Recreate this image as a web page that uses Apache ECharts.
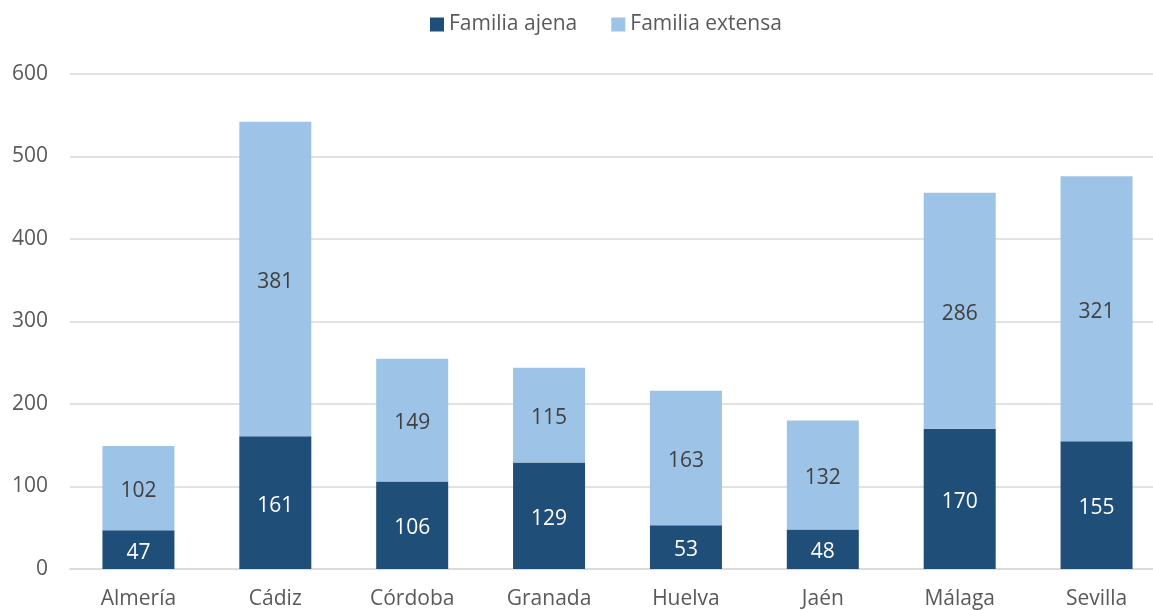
<!DOCTYPE html>
<html>
<head>
<meta charset="utf-8">
<script src="https://cdn.jsdelivr.net/npm/echarts@6/dist/echarts.min.js"></script>
<style>
  html, body { margin: 0; padding: 0; background: #fff; overflow: hidden; }
  #chart { width: 1153px; height: 610px; }
</style>
</head>
<body>
<div id="chart"></div>
<script>
const provincias = ['Almería', 'Cádiz', 'Córdoba', 'Granada', 'Huelva', 'Jaén', 'Málaga', 'Sevilla']
const familiaAjena = [47, 161, 106, 129, 53, 48, 170, 155]
const familiaExtensa = [102, 381, 149, 115, 163, 132, 286, 321]

const font = '"Open Sans", "Noto Sans", sans-serif'

const chart = echarts.init(document.getElementById('chart'))
chart.setOption({
  animation: false,
  textStyle: { fontFamily: font },
  legend: {
    top: 9,
    left: 425,
    itemWidth: 14,
    itemHeight: 14,
    itemGap: 34,
    icon: 'rect',
    textStyle: { fontSize: 21, color: '#595959', fontFamily: font },
    data: ['Familia ajena', 'Familia extensa']
  },
  grid: { left: 70, right: -12, top: 74, bottom: 41, outerBoundsMode: 'none' },
  xAxis: {
    type: 'category',
    data: provincias,
    axisLine: { lineStyle: { color: '#d9d9d9', width: 1.5 } },
    axisTick: { show: false },
    axisLabel: { fontSize: 21, color: '#595959', margin: 20, fontFamily: font }
  },
  yAxis: {
    type: 'value',
    min: 0,
    max: 600,
    interval: 100,
    axisLine: { show: false },
    axisTick: { show: false },
    splitLine: { lineStyle: { color: '#d9d9d9', width: 1.5 } },
    axisLabel: { fontSize: 21, color: '#595959', margin: 22, fontFamily: font }
  },
  series: [
    {
      name: 'Familia ajena',
      type: 'bar',
      stack: 'total',
      barWidth: '52.6%',
      itemStyle: { color: '#1f4e79' },
      label: { show: true, position: 'inside', offset: [0, 3], color: '#ffffff', fontSize: 21, fontFamily: font },
      data: familiaAjena
    },
    {
      name: 'Familia extensa',
      type: 'bar',
      stack: 'total',
      itemStyle: { color: '#9dc3e6' },
      label: { show: true, position: 'inside', offset: [0, 3], color: '#404040', fontSize: 21, fontFamily: font },
      data: familiaExtensa
    }
  ]
})
</script>
</body>
</html>
